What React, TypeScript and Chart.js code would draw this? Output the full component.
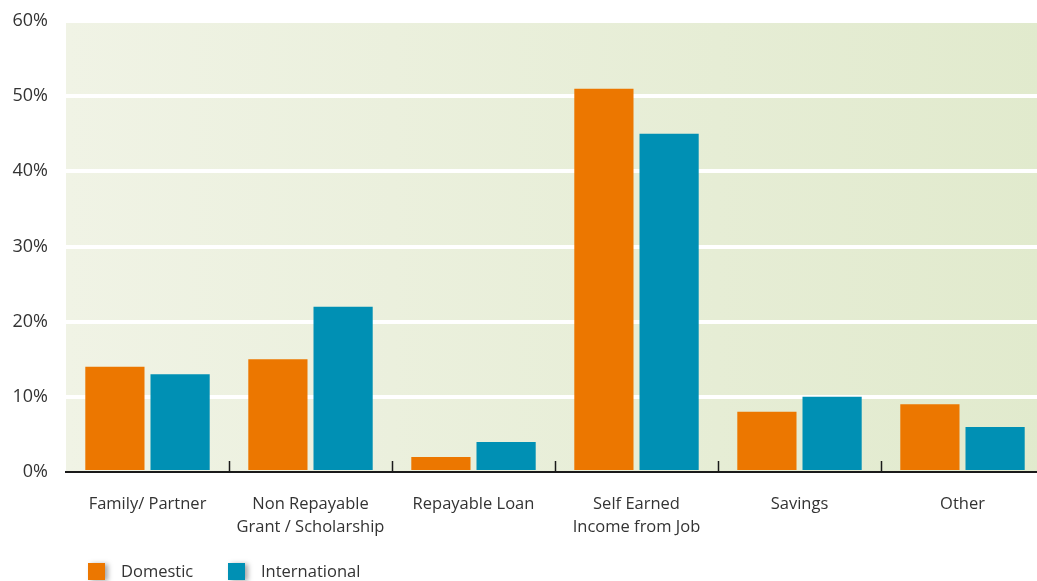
import React, { useEffect, useRef } from "react";
import { Chart, registerables } from "chart.js";

Chart.register(...registerables);

const categories: string[][] = [
  ["Family/ Partner"],
  ["Non Repayable", "Grant / Scholarship"],
  ["Repayable Loan"],
  ["Self Earned", "Income from Job"],
  ["Savings"],
  ["Other"],
];
const domestic = [14, 15, 2, 51, 8, 9];
const international = [13, 22, 4, 45, 10, 6];
const seriesNames = ["Domestic", "International"];
const seriesColors = ["#ec7700", "#0090b4"];
const yMin = 0;
const yMax = 60;
const yStep = 10;

const FONT = "'Open Sans', 'Noto Sans', sans-serif";
const TEXT = "#333333";

const bgPlugin = {
  id: "bgGradient",
  beforeDraw(chart: any) {
    const { ctx, chartArea } = chart;
    if (!chartArea) return;
    const g = ctx.createLinearGradient(chartArea.left, 0, chartArea.right, 0);
    g.addColorStop(0, "#f0f3e5");
    g.addColorStop(1, "#e1eacd");
    ctx.save();
    ctx.fillStyle = g;
    ctx.fillRect(chartArea.left, chartArea.top, chartArea.right - chartArea.left, chartArea.bottom - chartArea.top);
    ctx.restore();
  },
};

const tickPlugin = {
  id: "catTicks",
  beforeDatasetsDraw(chart: any) {
    const { ctx, chartArea } = chart;
    const xs = chart.scales.x;
    ctx.save();
    ctx.strokeStyle = "#1a1a1a";
    ctx.lineWidth = 1.5;
    for (let i = 1; i < categories.length; i++) {
      const x = Math.round((xs.getPixelForValue(i - 1) + xs.getPixelForValue(i)) / 2) + 0.5;
      ctx.beginPath();
      ctx.moveTo(x, chartArea.bottom);
      ctx.lineTo(x, chartArea.bottom - 11);
      ctx.stroke();
    }
    ctx.restore();
  },
};

const legendPlugin = {
  id: "customLegend",
  afterDraw(chart: any) {
    const { ctx } = chart;
    const boxXs = [88, 228];
    const y = 563;
    const size = 17;
    ctx.save();
    seriesNames.forEach((name, i) => {
      const bx = boxXs[i];
      ctx.save();
      ctx.shadowColor = "rgba(0,0,0,0.35)";
      ctx.shadowOffsetX = 3;
      ctx.shadowOffsetY = 1;
      ctx.shadowBlur = 5;
      ctx.fillStyle = seriesColors[i];
      ctx.fillRect(bx, y, size, size);
      ctx.restore();
      ctx.fillStyle = TEXT;
      ctx.font = `16.5px ${FONT}`;
      ctx.textBaseline = "middle";
      ctx.textAlign = "left";
      ctx.fillText(name, bx + 33, y + size / 2 + 1);
    });
    ctx.restore();
  },
};

export default function App() {
  const ref = useRef<HTMLCanvasElement | null>(null);

  useEffect(() => {
    document.body.style.margin = "0";
    document.body.style.overflow = "hidden";
    if (!ref.current) return;
    const chart = new Chart(ref.current, {
      type: "bar",
      data: {
        labels: categories,
        datasets: [
          { label: seriesNames[0], data: domestic, backgroundColor: seriesColors[0] },
          { label: seriesNames[1], data: international, backgroundColor: seriesColors[1] },
        ],
      },
      options: {
        responsive: false,
        animation: false,
        devicePixelRatio: 1,
        datasets: {
          bar: { categoryPercentage: 0.8, barPercentage: 0.908 },
        },
        layout: { padding: { top: 21, right: 6, bottom: 0, left: 0 } },
        plugins: {
          legend: { display: false },
          tooltip: { enabled: false },
        },
        scales: {
          x: {
            offset: true,
            grid: { display: true, drawOnChartArea: false, drawTicks: false },
            border: { display: true, color: "#1a1a1a", width: 2 },
            ticks: {
              color: TEXT,
              font: { family: FONT, size: 16.5, lineHeight: 1.4 },
              padding: 21,
              maxRotation: 0,
              autoSkip: false,
            },
            afterFit(scale: any) {
              scale.height = 109;
            },
          },
          y: {
            min: yMin,
            max: yMax,
            grid: {
              color: (c: any) => (c.tick && c.tick.value === 0 ? "rgba(0,0,0,0)" : "#ffffff"),
              lineWidth: 4,
              drawTicks: false,
            },
            border: { display: false },
            ticks: {
              stepSize: yStep,
              color: TEXT,
              font: { family: FONT, size: 18 },
              padding: 18,
              callback: (v: any) => `${v}%`,
            },
            afterFit(scale: any) {
              scale.width = 66;
              scale.paddingTop = 0;
              scale.paddingBottom = 0;
            },
          },
        },
      },
      plugins: [bgPlugin, tickPlugin, legendPlugin],
    });
    return () => chart.destroy();
  }, []);

  return (
    <div style={{ width: 1037, height: 581, overflow: "hidden", position: "relative" }}>
      <canvas ref={ref} width={1050} height={581} style={{ display: "block" }} />
    </div>
  );
}
